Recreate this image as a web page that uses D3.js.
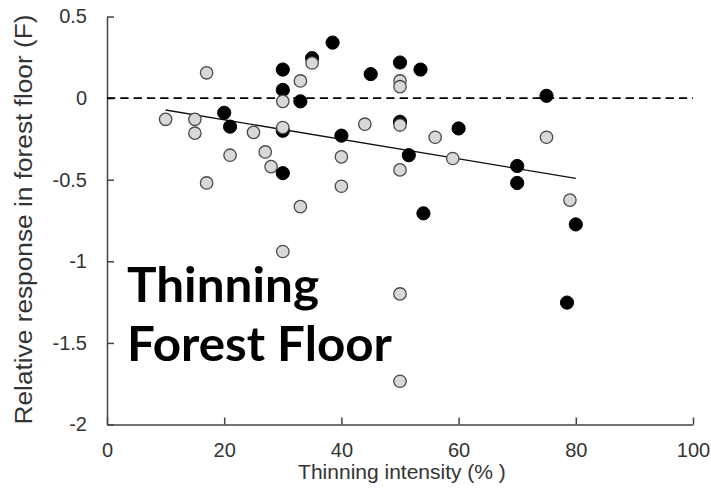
<!DOCTYPE html>
<html>
<head>
<meta charset="utf-8">
<script src="https://cdn.jsdelivr.net/npm/d3@7"></script>
<style>
  html, body { margin: 0; padding: 0; background: #fff; }
  svg { display: block; }
</style>
</head>
<body>
<svg id="chart" width="711" height="498"></svg>
<script>
// ---- data ----
const xTicks = [0, 20, 40, 60, 80, 100];
const yTicks = [0.5, 0, -0.5, -1, -1.5, -2];
const yTickLabels = ["0.5", "0", "-0.5", "-1", "-1.5", "-2"];

const grayX = [10, 15, 15, 17, 17, 21, 25, 27, 28, 30, 30, 30, 33, 33, 35, 40, 40, 44, 50, 50, 50, 50, 50, 50, 56, 59, 75, 79];
const grayY = [-0.13, -0.13, -0.215, 0.155, -0.52, -0.35, -0.21, -0.33, -0.42, -0.02, -0.18, -0.94, 0.105, -0.665, 0.215, -0.36, -0.54, -0.16, 0.105, 0.07, -0.165, -0.44, -1.2, -1.735, -0.24, -0.37, -0.24, -0.625];

const blackX = [20, 21, 30, 30, 30, 30, 33, 35, 38.5, 40, 45, 50, 53.5, 50, 60, 51.5, 54, 75, 70, 70, 80, 78.5];
const blackY = [-0.09, -0.175, 0.175, 0.05, -0.2, -0.46, -0.02, 0.245, 0.34, -0.23, 0.147, 0.218, 0.175, -0.145, -0.186, -0.35, -0.706, 0.014, -0.416, -0.52, -0.774, -1.253];

const trendX = [10, 80];
const trendY = [-0.073, -0.492];

const refLineY = 0;

const xTitle = "Thinning intensity (% )";
const yTitle = "Relative response in forest floor (F)";
const annotation = ["Thinning", "Forest Floor"];

// ---- drawing ----
const svg = d3.select("#chart");
const x = d3.scaleLinear().domain([0, 100]).range([107, 693]);
const y = d3.scaleLinear().domain([-2, 0.5]).range([424.5, 16.5]);

const axisColor = "#444";
const textColor = "#333";
const font = "Liberation Sans, Arial, sans-serif";

// x axis
const gx = svg.append("g").attr("transform", `translate(0,${y(-2)})`)
  .call(d3.axisBottom(x).tickValues(xTicks).tickSize(-7).tickPadding(25).tickSizeOuter(0));
gx.select(".domain").attr("stroke", axisColor).attr("stroke-width", 1.5);
gx.selectAll(".tick line").attr("stroke", axisColor).attr("stroke-width", 1.5);
gx.selectAll(".tick text").attr("fill", textColor).attr("font-family", font).attr("font-size", 20).attr("dy", 0).attr("y", 32);

// y axis
const gy = svg.append("g").attr("transform", `translate(${x(0)},0)`)
  .call(d3.axisLeft(y).tickValues(yTicks).tickFormat((d, i) => yTickLabels[i]).tickSize(-7).tickPadding(20).tickSizeOuter(0));
gy.select(".domain").attr("stroke", axisColor).attr("stroke-width", 1.5);
gy.selectAll(".tick line").attr("stroke", axisColor).attr("stroke-width", 1.5);
gy.selectAll(".tick text").attr("fill", textColor).attr("font-family", font).attr("font-size", 20).attr("x", -20);

// reference dashed line
svg.append("line")
  .attr("x1", x(0)).attr("x2", x(100))
  .attr("y1", y(refLineY)).attr("y2", y(refLineY))
  .attr("stroke", "#000").attr("stroke-width", 1.8)
  .attr("stroke-dasharray", "8.3,5");

// trend line
svg.append("line")
  .attr("x1", x(trendX[0])).attr("x2", x(trendX[1]))
  .attr("y1", y(trendY[0])).attr("y2", y(trendY[1]))
  .attr("stroke", "#111").attr("stroke-width", 1.3);

// points
const black = blackX.map((v, i) => ({x: v, y: blackY[i], t: "b"}));
const gray = grayX.map((v, i) => ({x: v, y: grayY[i], t: "g"}));
// draw order: the gray point at 28% sits beneath the black ones, other grays on top
const pts = [gray[8]].concat(black, gray.filter((d, i) => i !== 8));

svg.append("g").selectAll("circle").data(pts).join("circle")
  .attr("cx", d => x(d.x)).attr("cy", d => y(d.y))
  .attr("r", d => d.t === "b" ? 6.6 : 6.2)
  .attr("fill", d => d.t === "b" ? "#000" : "#d8d8d8")
  .attr("stroke", d => d.t === "b" ? "#000" : "#4a4a4a")
  .attr("stroke-width", d => d.t === "b" ? 1 : 1.3);

// axis titles
svg.append("text")
  .attr("x", 402).attr("y", 479)
  .attr("text-anchor", "middle")
  .attr("font-family", font).attr("font-size", 21)
  .attr("fill", textColor).text(xTitle);

svg.append("text")
  .attr("transform", "translate(32,219.5) rotate(-90)")
  .attr("text-anchor", "middle")
  .attr("font-family", font).attr("font-size", 23)
  .attr("textLength", 410).attr("lengthAdjust", "spacingAndGlyphs")
  .attr("fill", textColor).text(yTitle);

// annotation
const annWidths = [192, 265];
const ann = svg.append("text")
  .attr("font-family", "Lato, 'Open Sans', sans-serif").attr("font-weight", 700)
  .attr("font-size", 47).attr("fill", "#000");
ann.selectAll("tspan").data(annotation).join("tspan")
  .attr("x", 127).attr("y", (d, i) => 302 + i * 59)
  .attr("textLength", (d, i) => annWidths[i]).attr("lengthAdjust", "spacingAndGlyphs")
  .text(d => d);
</script>
</body>
</html>
